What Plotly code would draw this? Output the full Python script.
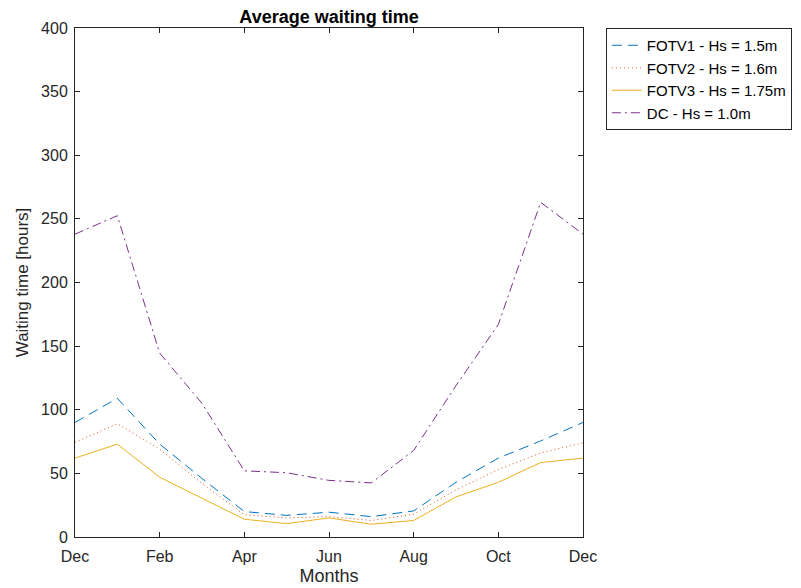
import plotly.graph_objects as go

months = ["Dec", "Jan", "Feb", "Mar", "Apr", "May", "Jun", "Jul", "Aug", "Sep", "Oct", "Nov", "Dec"]
month_index = list(range(13))
tick_positions = [0, 2, 4, 6, 8, 10, 12]
tick_labels = ["Dec", "Feb", "Apr", "Jun", "Aug", "Oct", "Dec"]

fotv1 = [90, 109, 73, 46, 20, 17, 19.5, 16, 20.5, 43, 62, 75.5, 90]
fotv2 = [74.5, 89, 69, 42, 17.5, 15, 16, 13, 18, 37, 53, 66, 74]
fotv3 = [62, 73, 47, 30.5, 14, 10.5, 15, 10, 13, 31.5, 43, 58.5, 62]
dc = [238, 252.5, 144.5, 105, 52, 50.5, 44.5, 42.5, 68, 119, 167, 263, 238]

series = [
    ("FOTV1 - Hs = 1.5m", fotv1, "#0072BD", "10px,6px"),
    ("FOTV2 - Hs = 1.6m", fotv2, "#D95319", "1px,3px"),
    ("FOTV3 - Hs = 1.75m", fotv3, "#EDB120", "solid"),
    ("DC - Hs = 1.0m", dc, "#7E2F8E", "9px,4px,2px,4px"),
]

fig = go.Figure()
for name, vals, color, dash in series:
    fig.add_trace(go.Scatter(
        x=month_index, y=vals, name=name, mode="lines",
        line=dict(color=color, width=1, dash=dash),
        hovertext=months,
    ))

axis_common = dict(
    showgrid=False, zeroline=False, showline=True, linecolor="#262626", linewidth=1,
    mirror="ticks", ticks="inside", ticklen=5, tickcolor="#262626", automargin=False,
    tickfont=dict(family="Liberation Sans, Arial, sans-serif", size=16, color="#262626"),
)

fig.update_layout(
    width=793, height=580,
    margin=dict(l=67, r=218, t=20, b=51, autoexpand=False),
    paper_bgcolor="white", plot_bgcolor="white",
    font=dict(family="Liberation Sans, Arial, sans-serif", color="#262626"),
    title=dict(text="<b>Average waiting time</b>", x=0.5, xref="paper", xanchor="center",
               y=1, yref="paper", yanchor="bottom", pad=dict(b=5), automargin=False,
               font=dict(size=18, color="black")),
    xaxis=dict(range=[0, 12], tickvals=tick_positions, ticktext=tick_labels,
               ticklabelstandoff=5,
               title=dict(text="Months", font=dict(size=18), standoff=5), **axis_common),
    yaxis=dict(range=[0, 400], dtick=50, ticklabelstandoff=3,
               title=dict(text="Waiting time [hours]", font=dict(size=17), standoff=8), **axis_common),
    legend=dict(x=1.045, y=1, xanchor="left", yanchor="top",
                bordercolor="#262626", borderwidth=1, bgcolor="white",
                font=dict(size=15, color="black"), tracegroupgap=0,
                itemwidth=30),
    showlegend=True,
)

fig.write_html("out.html")
